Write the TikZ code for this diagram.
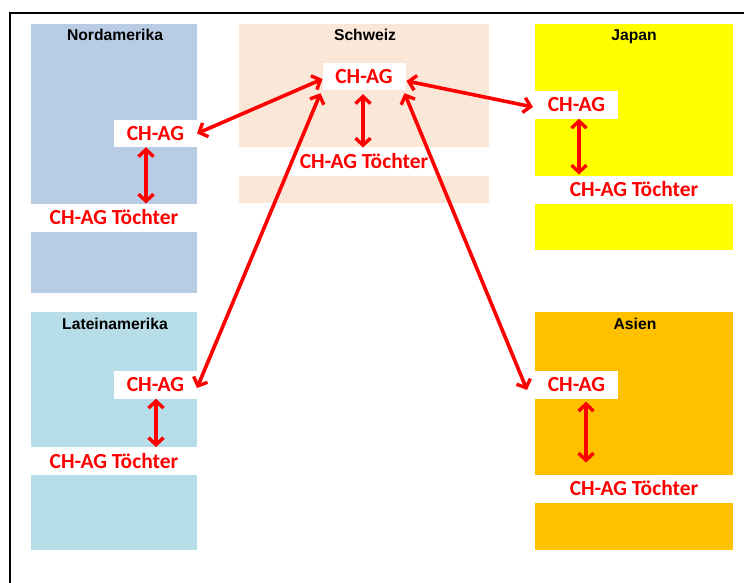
\documentclass[tikz,border=0pt]{standalone}
\usepackage{fontspec}
\setmainfont{Liberation Sans}
\newfontfamily\calib{Carlito}
\usetikzlibrary{arrows.meta}
\definecolor{nordblue}{RGB}{184,204,228}
\definecolor{swisspeach}{RGB}{251,231,216}
\definecolor{japyellow}{RGB}{255,255,0}
\definecolor{latblue}{RGB}{183,221,232}
\definecolor{asiaorange}{RGB}{255,192,0}
\definecolor{agred}{RGB}{255,0,0}
\tikzset{
  regionlabel/.style={font=\fontsize{15.7}{18}\selectfont\bfseries, text=black, inner sep=0pt, anchor=base},
  agbox/.style={fill=white, draw=none, inner sep=0pt, outer sep=0pt, minimum width=83pt, minimum height=27.5pt,
    font=\calib\fontsize{21.5}{24}\selectfont\bfseries, text=agred},
  tband/.style={fill=white, draw=none, inner sep=0pt, outer sep=0pt, minimum height=28pt,
    font=\calib\fontsize{21.5}{24}\selectfont\bfseries, text=agred},
  link/.style={draw=agred, line width=3.6pt, {Straight Barb[length=7pt,width=15pt,line width=3.4pt]}-{Straight Barb[length=7pt,width=15pt,line width=3.4pt]}},
}
\begin{document}
\begin{tikzpicture}[x=1pt,y=-1pt]
\clip (0,0) rectangle (744,583);
\fill[white] (0,0) rectangle (744,583);
% outer frame
\draw[line width=2pt, black] (10,600) -- (10,13) -- (760,13);
% region boxes
\fill[nordblue]   (31,24)  rectangle (197,293);
\fill[swisspeach] (239,24) rectangle (489,203);
\fill[japyellow]  (535,24) rectangle (733,250);
\fill[latblue]    (31,312) rectangle (197,550);
\fill[asiaorange] (535,312) rectangle (733,550);
% region labels
\node[regionlabel] (lnord) at (115,40.5) {Nordamerika};
\node[regionlabel] (lsch)  at (365,40.5) {Schweiz};
\node[regionlabel] (ljap)  at (634,40.5) {Japan};
\node[regionlabel] (llat)  at (115,329.5) {Lateinamerika};
\node[regionlabel] (lasi)  at (635,329.5) {Asien};
% CH-AG nodes
\node[agbox] (schAG) at (364,76.5) {CH-AG};
\node[agbox] (nordAG) at (155.5,133.5) {CH-AG};
\node[agbox] (japAG) at (576.5,105) {CH-AG};
\node[agbox] (latAG) at (155.5,385) {CH-AG};
\node[agbox] (asiAG) at (576.5,385) {CH-AG};
% Toechter bands
\node[tband, minimum width=166pt] (nordT) at (114,217.5) {CH-AG Töchter};
\node[tband, minimum width=250pt] (schT)  at (364,161.5) {CH-AG Töchter};
\node[tband, minimum width=198pt] (japT)  at (634,189.5) {CH-AG Töchter};
\node[tband, minimum width=166pt] (latT)  at (114,461) {CH-AG Töchter};
\node[tband, minimum width=198pt] (asiT)  at (634,488.5) {CH-AG Töchter};
% vertical links
\draw[link] ([xshift=-9.5pt]nordAG.south) -- ([xshift=-9.5pt]nordAG.south |- nordT.north);
\draw[link] ([xshift=-1pt,yshift=-4pt]schAG.south) -- ([xshift=-1pt]schAG.south |- schT.north);
\draw[link] ([xshift=2.5pt]japAG.south) -- ([xshift=2.5pt,yshift=1pt]japAG.south |- japT.north);
\draw[link] ([xshift=0.5pt]latAG.south) -- ([xshift=0.5pt]latAG.south |- latT.north);
\draw[link] ([xshift=9.5pt,yshift=-3pt]asiAG.south) -- ([xshift=9.5pt,yshift=12pt]asiAG.south |- asiT.north);
% long links
\draw[link] ([yshift=-2.5pt]schAG.west) -- (nordAG.east);
\draw[link] ([xshift=-2pt,yshift=-3pt]schAG.south west) -- ([yshift=-3pt]latAG.east);
\draw[link] ([xshift=1pt,yshift=-4.5pt]schAG.east) -- ([xshift=-2pt,yshift=-2pt]japAG.west);
\draw[link] ([xshift=-1pt,yshift=-3pt]schAG.south east) -- ([xshift=-8pt,yshift=-5pt]asiAG.west);
\end{tikzpicture}
\end{document}
